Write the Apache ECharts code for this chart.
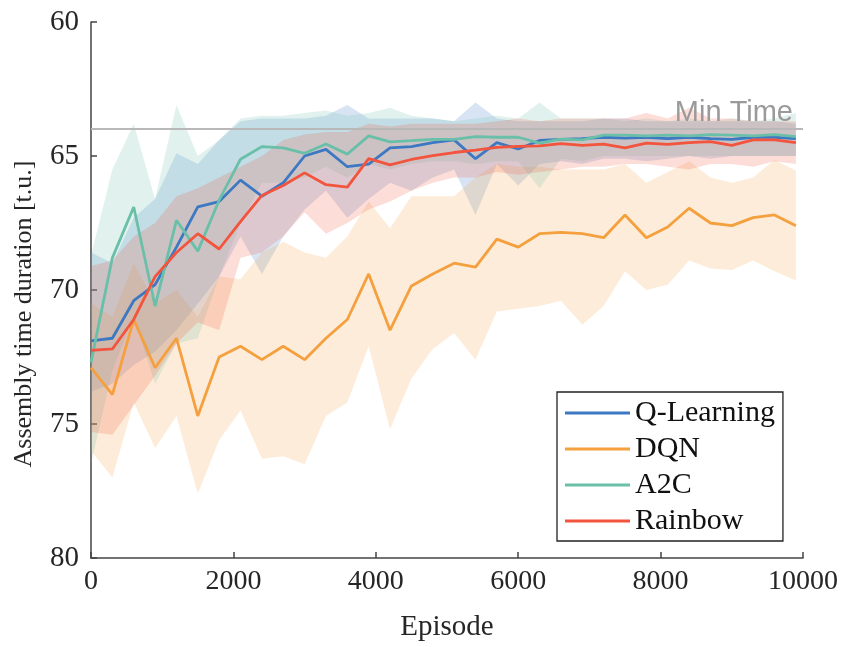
<!DOCTYPE html>
<html>
<head>
<meta charset="utf-8">
<title>Assembly time duration</title>
<script src="https://cdn.jsdelivr.net/npm/echarts@6/dist/echarts.min.js"></script>
<style>
  html, body { margin: 0; padding: 0; background: #fff; }
  #chart { width: 846px; height: 647px; }
</style>
</head>
<body>
<div id="chart"></div>
<script>
// episodes (x)
const episodes = [0, 300, 600, 900, 1200, 1500, 1800, 2100, 2400, 2700, 3000, 3300, 3600, 3900, 4200, 4500, 4800,
  5100, 5400, 5700, 6000, 6300, 6600, 6900, 7200, 7500, 7800, 8100, 8400, 8700, 9000, 9300, 9600, 9900]

// mean assembly time per method
const qlMean = [71.9, 71.8, 70.4, 69.8, 68.4, 66.9, 66.7, 65.9, 66.5, 66.0, 65.0, 64.75, 65.4, 65.3, 64.7, 64.65, 64.5,
  64.4, 65.1, 64.5, 64.74, 64.42, 64.38, 64.35, 64.3, 64.33, 64.3, 64.35, 64.3, 64.35, 64.38, 64.3, 64.3, 64.35]
const dqnMean = [72.9, 73.9, 71.1, 72.9, 71.8, 74.7, 72.5, 72.1, 72.6, 72.1, 72.6, 71.8, 71.1, 69.4, 71.5, 69.85, 69.4,
  69.0, 69.15, 68.1, 68.4, 67.9, 67.85, 67.9, 68.05, 67.2, 68.05, 67.65, 66.95, 67.5, 67.6, 67.3, 67.2, 67.6]
const a2cMean = [72.7, 68.8, 66.9, 70.6, 67.4, 68.55, 66.65, 65.12, 64.65, 64.7, 64.9, 64.55, 64.93, 64.25, 64.47, 64.43, 64.38,
  64.38, 64.28, 64.3, 64.3, 64.52, 64.37, 64.4, 64.22, 64.22, 64.25, 64.22, 64.25, 64.2, 64.22, 64.25, 64.2, 64.28]
const rbMean = [72.25, 72.2, 71.1, 69.5, 68.6, 67.9, 68.47, 67.45, 66.47, 66.1, 65.63, 66.07, 66.16, 65.1, 65.33, 65.13, 64.99,
  64.87, 64.78, 64.68, 64.64, 64.62, 64.54, 64.6, 64.56, 64.7, 64.52, 64.57, 64.5, 64.46, 64.6, 64.4, 64.4, 64.5]

// shaded range, upper edge (smaller time) and lower edge (larger time)
const qlUpper = [68.6, 69.0, 67.3, 66.6, 64.9, 65.3, 64.4, 63.7, 63.6, 63.6, 63.6, 63.5, 63.1, 63.6, 63.6, 63.6, 63.6,
  63.7, 63.0, 63.6, 63.7, 63.7, 63.7, 63.7, 63.6, 63.6, 63.7, 63.7, 63.7, 63.7, 63.7, 63.7, 63.7, 63.8]
const qlLower = [73.8, 73.5, 72.8, 72.3, 71.5, 70.5, 69.5, 68.0, 69.4, 68.0, 67.0, 66.3, 67.3, 66.6, 66.0, 66.3, 65.8,
  65.5, 67.2, 65.3, 66.1, 65.3, 65.2, 65.3, 65.1, 65.1, 65.2, 65.1, 65.0, 65.1, 65.0, 65.0, 65.0, 65.0]
const dqnUpper = [70.5, 71.0, 69.0, 70.5, 70.0, 71.0, 69.5, 69.6, 68.6, 68.2, 68.6, 68.8, 68.0, 66.7, 67.7, 66.5, 66.5,
  66.5, 65.8, 65.3, 65.4, 65.4, 65.5, 65.5, 65.5, 65.3, 66.0, 65.6, 65.2, 65.8, 66.0, 65.8, 65.15, 65.55]
const dqnLower = [76.0, 77.0, 74.2, 75.9, 74.7, 77.6, 75.6, 74.5, 76.3, 76.2, 76.5, 74.7, 74.2, 72.1, 75.2, 73.3, 72.2,
  71.6, 72.6, 70.8, 70.7, 70.6, 70.4, 71.3, 70.6, 69.3, 70.0, 69.8, 68.9, 69.2, 69.25, 68.9, 69.3, 69.65]
const a2cUpper = [68.7, 65.5, 63.8, 66.6, 63.1, 65.0, 64.4, 63.6, 63.5, 63.5, 63.4, 63.3, 63.5, 63.4, 63.2, 63.5, 63.6,
  63.7, 63.6, 63.5, 63.6, 63.0, 63.6, 63.6, 63.6, 63.7, 63.6, 63.7, 63.6, 63.7, 63.6, 63.7, 63.6, 63.4]
const a2cLower = [76.5, 73.0, 71.0, 73.5, 72.0, 71.8, 69.5, 67.5, 66.0, 66.0, 65.8, 65.4, 65.8, 65.3, 65.5, 65.3, 65.2,
  65.2, 65.3, 65.2, 65.2, 66.2, 65.1, 65.2, 65.0, 65.0, 65.0, 65.0, 65.0, 65.0, 65.0, 65.0, 65.0, 65.0]
const rbUpper = [69.1, 68.9, 68.0, 67.5, 66.5, 66.2, 65.8, 65.4, 65.0, 64.4, 64.2, 64.1, 64.1, 63.8, 63.9, 63.8, 63.8,
  63.8, 63.8, 63.7, 63.6, 63.7, 63.6, 63.6, 63.6, 63.6, 63.4, 63.6, 63.2, 63.6, 63.6, 63.7, 63.7, 63.7]
const rbLower = [75.3, 75.4, 74.3, 73.2, 72.0, 71.2, 71.5, 68.8, 68.6, 68.0, 67.1, 67.9, 67.5, 67.0, 66.7, 66.3, 66.0,
  65.8, 65.8, 65.6, 65.7, 65.6, 65.5, 65.4, 65.4, 65.3, 65.3, 65.4, 65.5, 65.3, 65.3, 65.4, 65.2, 65.3]

const MIN_TIME = 64

const methods = [
  { name: 'Q-Learning', color: '#3d78c2', mean: qlMean, upper: qlUpper, lower: qlLower },
  { name: 'DQN', color: '#f5a03f', mean: dqnMean, upper: dqnUpper, lower: dqnLower },
  { name: 'A2C', color: '#6abfa8', mean: a2cMean, upper: a2cUpper, lower: a2cLower },
  { name: 'Rainbow', color: '#f2543d', mean: rbMean, upper: rbUpper, lower: rbLower }
]

const serif = 'Liberation Serif'
const chart = echarts.init(document.getElementById('chart'))

// one polygon per band: along the upper edge, back along the lower edge
function bandRenderer(m) {
  return function (params, api) {
    if (params.dataIndex !== 0) return null
    const pts = []
    episodes.forEach((e, k) => pts.push(api.coord([e, m.upper[k]])))
    for (let k = episodes.length - 1; k >= 0; k--) pts.push(api.coord([episodes[k], m.lower[k]]))
    return {
      type: 'polygon',
      shape: { points: pts },
      style: { fill: m.color, opacity: 0.2 }
    }
  }
}

const series = []
methods.forEach((m) => {
  series.push({
    name: m.name + ' range',
    type: 'custom',
    renderItem: bandRenderer(m),
    data: episodes.map((e, k) => [e, m.upper[k], m.lower[k]]),
    encode: { x: 0, y: [1, 2] },
    silent: true,
    z: 1
  })
})
methods.forEach((m, i) => {
  const s = {
    name: m.name,
    type: 'line',
    data: episodes.map((e, k) => [e, m.mean[k]]),
    symbol: 'none',
    lineStyle: { color: m.color, width: 2.8 },
    itemStyle: { color: m.color },
    z: 3
  }
  if (i === 0) {
    s.markLine = {
      silent: true,
      symbol: 'none',
      lineStyle: { color: '#b8b8b8', width: 2, type: 'solid' },
      label: {
        formatter: 'Min Time',
        position: 'insideEndTop',
        color: '#9a9a9a',
        fontSize: 29,
        fontFamily: 'Liberation Sans',
        distance: [10, 2]
      },
      data: [{ yAxis: MIN_TIME }]
    }
  }
  series.push(s)
})

chart.setOption({
  animation: false,
  grid: { left: 91, right: 43, top: 22, bottom: 89 },
  legend: {
    data: methods.map(m => m.name),
    orient: 'vertical',
    left: 557,
    top: 392,
    width: 228,
    icon: 'rect',
    itemWidth: 65,
    itemHeight: 3,
    itemGap: 6,
    padding: [6, 8, 5, 8],
    borderColor: '#222',
    borderWidth: 1.3,
    borderRadius: 0,
    backgroundColor: '#fff',
    textStyle: { fontFamily: serif, fontSize: 30, color: '#111', lineHeight: 30 }
  },
  xAxis: {
    type: 'value',
    min: 0,
    max: 10000,
    interval: 2000,
    name: 'Episode',
    nameLocation: 'middle',
    nameGap: 55,
    nameTextStyle: { fontFamily: serif, fontSize: 29, color: '#262626' },
    axisLine: { lineStyle: { color: '#444', width: 1.5 } },
    axisTick: { inside: true, length: 6, lineStyle: { color: '#444', width: 1.5 } },
    axisLabel: { fontFamily: serif, fontSize: 28, color: '#262626', margin: 10, formatter: v => String(v) },
    splitLine: { show: false }
  },
  yAxis: {
    type: 'value',
    inverse: true,
    min: 60,
    max: 80,
    interval: 5,
    name: 'Assembly time duration [t.u.]',
    nameLocation: 'middle',
    nameGap: 54,
    nameRotate: 90,
    nameTextStyle: { fontFamily: serif, fontSize: 26, color: '#262626', padding: [0, 48, 0, 0] },
    axisLine: { show: true, lineStyle: { color: '#444', width: 1.5 } },
    axisTick: { show: true, inside: true, length: 6, lineStyle: { color: '#444', width: 1.5 } },
    axisLabel: { fontFamily: serif, fontSize: 29, color: '#262626', margin: 12 },
    splitLine: { show: false }
  },
  series: series
})
</script>
</body>
</html>
